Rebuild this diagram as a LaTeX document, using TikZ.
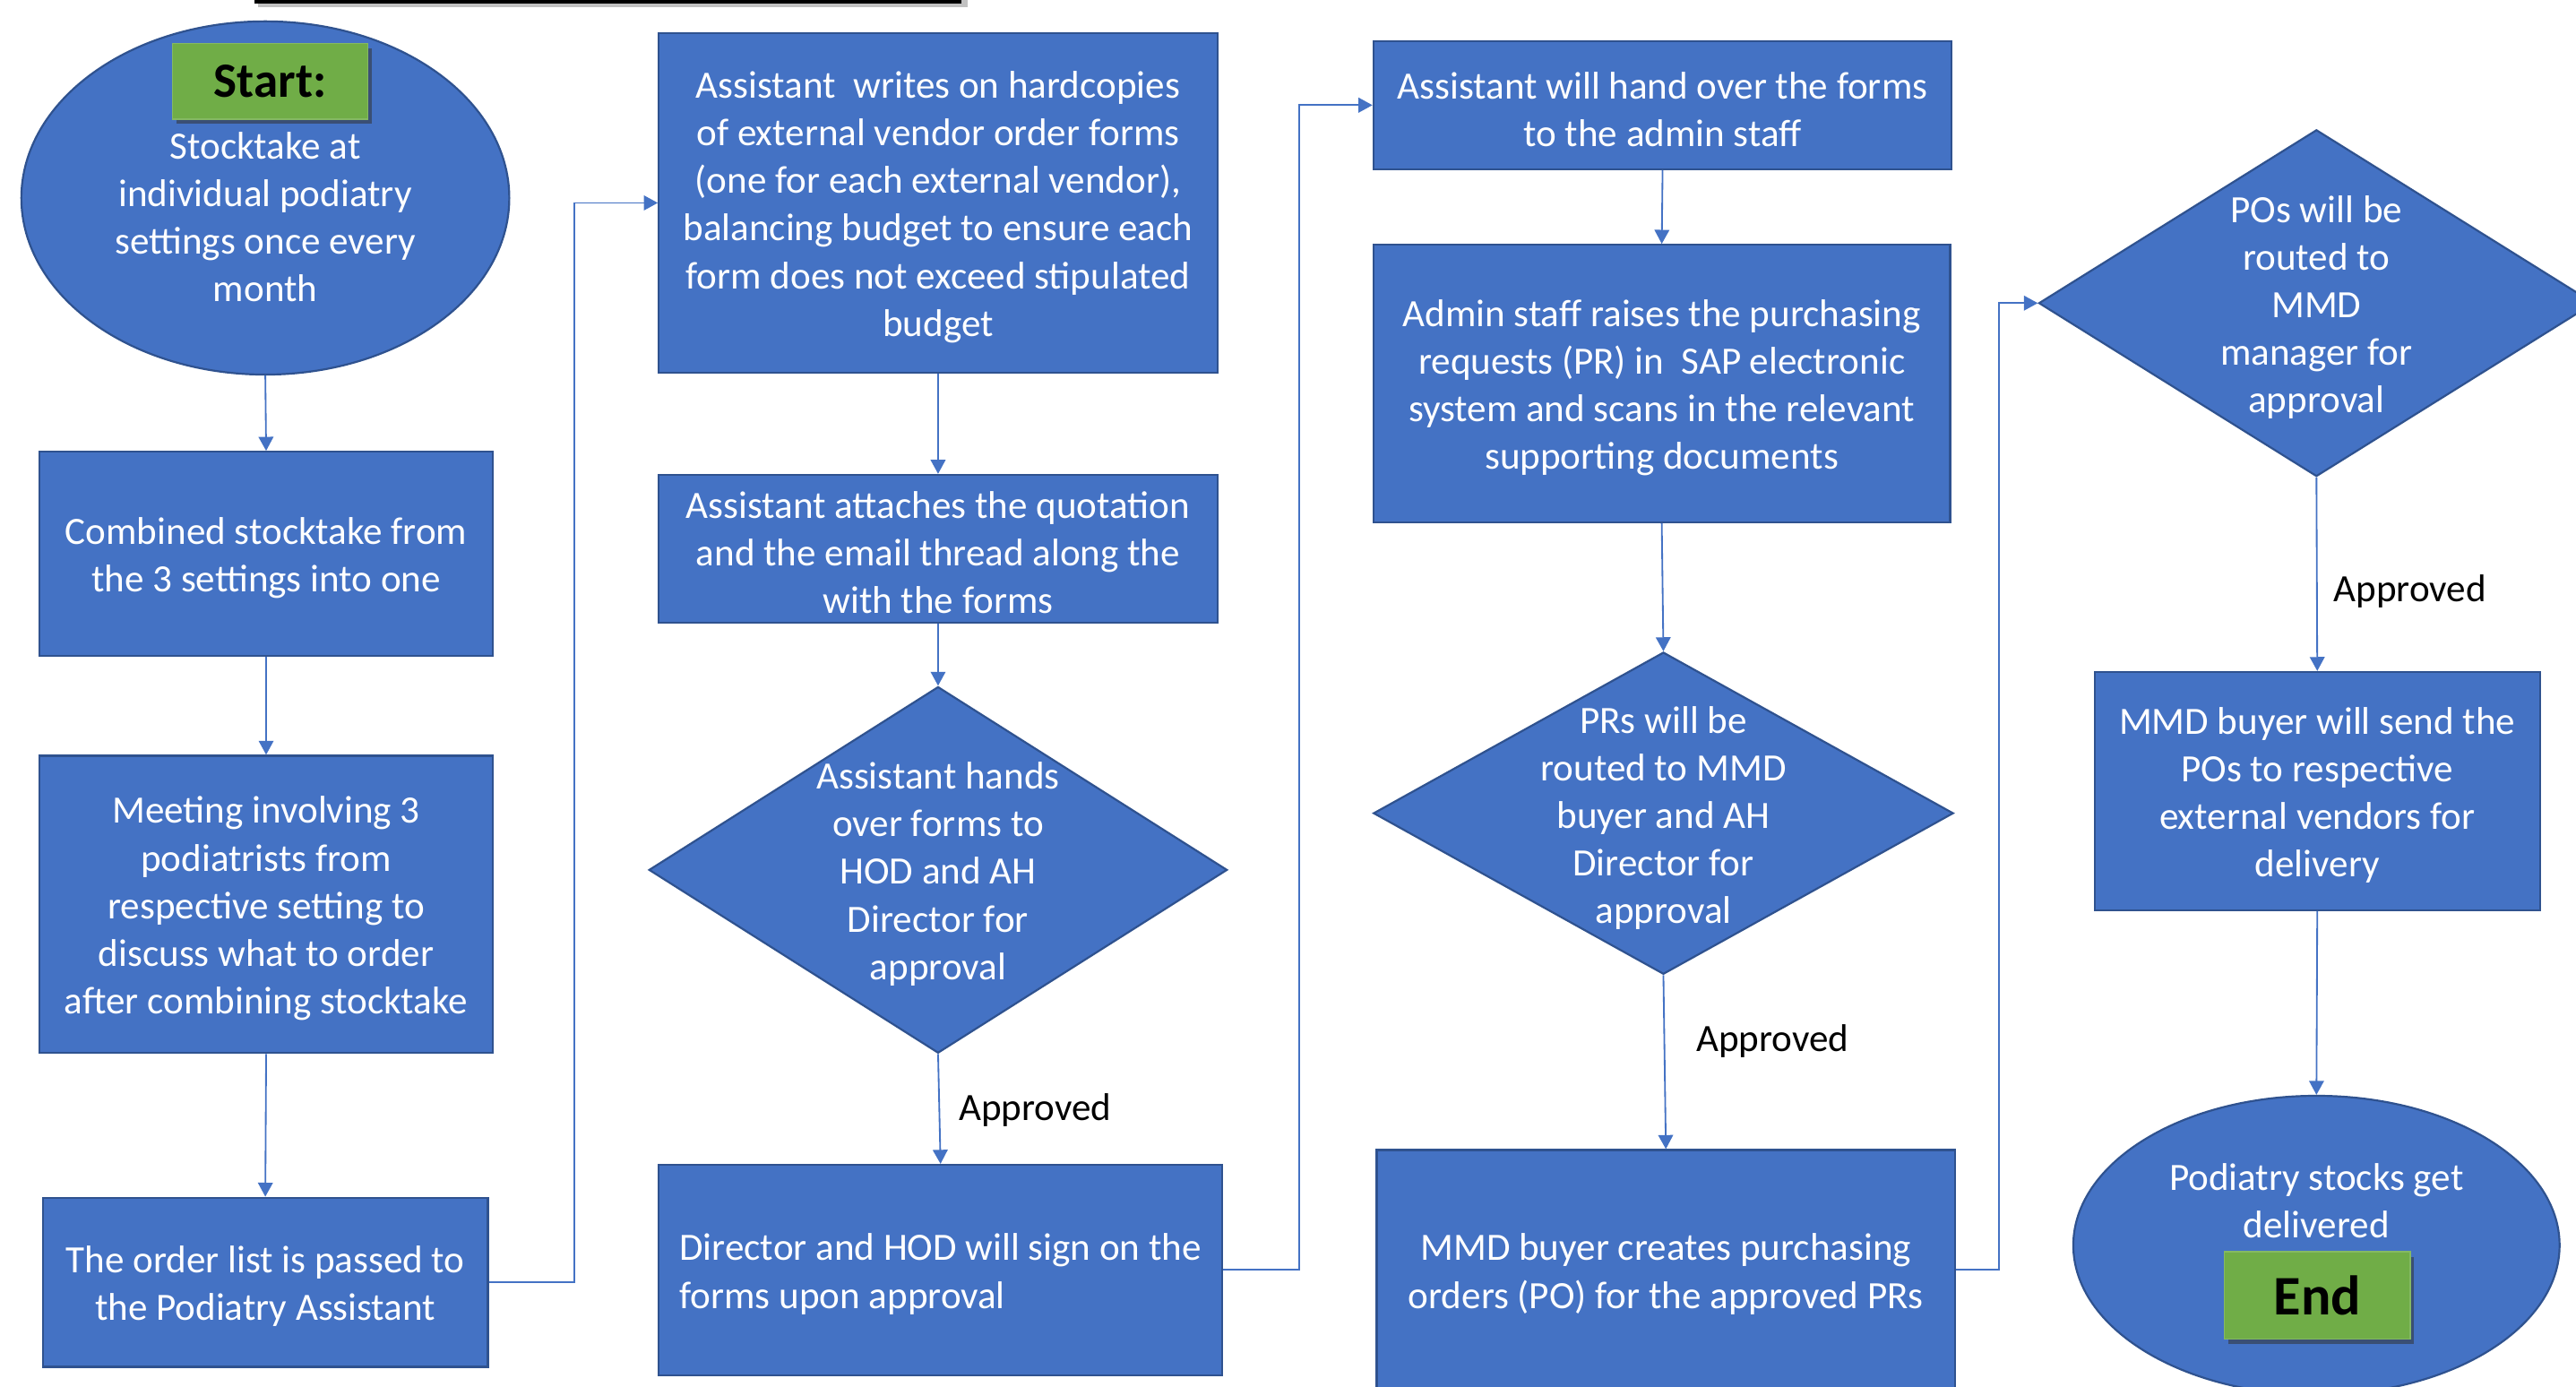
\documentclass[tikz,border=0pt]{standalone}
\usepackage{fontspec}
\setmainfont{Carlito}
\usetikzlibrary{shapes.geometric,arrows.meta,shadows}
\definecolor{fillblue}{HTML}{4472C4}
\definecolor{edgeblue}{HTML}{2F528F}
\definecolor{lineblue}{HTML}{4472C4}
\definecolor{startgreen}{HTML}{70AD47}
\begin{document}
\begin{tikzpicture}[x=1pt,y=-1pt,
  proc/.style={draw=edgeblue,fill=fillblue,line width=1.2pt,inner sep=0pt},
  decis/.style={diamond,draw=edgeblue,fill=fillblue,line width=1.2pt,inner sep=0pt},
  term/.style={ellipse,draw=edgeblue,fill=fillblue,line width=1.2pt,inner sep=0pt},
  wtext/.style={text=white,align=center,inner sep=0pt,font=\fontsize{23.5}{29}\selectfont},
  ptext/.style={wtext,yshift=-2.5pt},
  lbl/.style={text=black,inner sep=0pt,font=\fontsize{23.5}{29}\selectfont},
  gbox/.style={fill=startgreen,draw=startgreen!85!white,line width=0.8pt,inner sep=0pt,text=black,font=\bfseries,
    drop shadow={shadow xshift=2.5pt,shadow yshift=-3pt,opacity=0.55,fill=black!80}},
  conn/.style={draw=lineblue,line width=1pt,-{Triangle[length=8.5pt,width=9pt]}}
]
\useasboundingbox (0,0) rectangle (1568,844);
\clip (0,0) rectangle (1568,844);
\fill[white] (0,0) rectangle (1568,844);

% top bar
\fill[black!40,opacity=0.6] (157,0) rectangle (589,4.5);
\fill[black] (155,-1) rectangle (585,2.3);

% start
\node[term,minimum width=297pt,minimum height=215pt] (start) at (161.5,120.5) {};
\node[gbox,minimum width=119pt,minimum height=46pt,font=\fontsize{30}{32}\selectfont\bfseries] (startg) at (164.5,49.5) {Start:};
\node[wtext] (startt) at (161.5,132) {Stocktake at\\individual podiatry\\settings once every\\month};

\node[proc,minimum width=276pt,minimum height=124pt,label={[ptext]center:{Combined stocktake from\\the 3 settings into one}}] (box2) at (162,337) {};
\node[proc,minimum width=276pt,minimum height=181pt,label={[ptext]center:{Meeting involving 3\\podiatrists from\\respective setting to\\discuss what to order\\after combining stocktake}}] (box3) at (162,550.5) {};
\node[proc,minimum width=271pt,minimum height=103pt,label={[ptext]center:{The order list is passed to\\the Podiatry Assistant}}] (box4) at (161.5,780.5) {};

\node[proc,minimum width=340pt,minimum height=207pt,label={[ptext]center:{Assistant\ \ writes on hardcopies\\of external vendor order forms\\(one for each external vendor),\\balancing budget to ensure each\\form does not exceed stipulated\\budget}}] (box5) at (571,123.5) {};
\node[proc,minimum width=340pt,minimum height=90pt,label={[ptext]center:{Assistant attaches the quotation\\and the email thread along the\\with the forms}}] (box6) at (571,334) {};
\node[decis,minimum width=352pt,minimum height=223pt] (d1) at (571,529.5) {};
\node[wtext] (d1t) at (571,532) {Assistant hands\\over forms to\\HOD and AH\\Director for\\approval};
\node[proc,minimum width=343pt,minimum height=128pt,label={[ptext,align=left]center:{Director and HOD will sign on the\\forms upon approval}}] (box7) at (572.5,773) {};

\node[proc,minimum width=352pt,minimum height=78pt,label={[ptext]center:{Assistant will hand over the forms\\to the admin staff}}] (box8) at (1012,64) {};
\node[proc,minimum width=351pt,minimum height=169pt,label={[ptext]center:{Admin staff raises the purchasing\\requests (PR) in\ \ SAP electronic\\system and scans in the relevant\\supporting documents}}] (box9) at (1011.5,233.5) {};
\node[decis,minimum width=353pt,minimum height=196pt] (d2) at (1012.5,495) {};
\node[wtext] (d2t) at (1012.5,498) {PRs will be\\routed to MMD\\buyer and AH\\Director for\\approval};
\node[proc,minimum width=352pt,minimum height=146pt,label={[ptext]center:{MMD buyer creates purchasing\\orders (PO) for the approved PRs}}] (box10) at (1014,773) {};

\node[decis,minimum width=338pt,minimum height=211pt] (d3) at (1410,184.5) {};
\node[wtext] (d3t) at (1410,187) {POs will be\\routed to\\MMD\\manager for\\approval};
\node[proc,minimum width=271pt,minimum height=145pt,label={[ptext]center:{MMD buyer will send the\\POs to respective\\external vendors for\\delivery}}] (box11) at (1410.5,481.5) {};
\node[term,minimum width=296pt,minimum height=182pt] (endell) at (1410,758) {};
\node[wtext] (endt) at (1410,731) {Podiatry stocks get\\delivered};
\node[gbox,minimum width=113pt,minimum height=53pt,font=\fontsize{34}{36}\selectfont\bfseries] (endg) at (1410.5,788.5) {End};

% connectors
\draw[conn] (start.south) -- (box2.north);
\draw[conn] (box2.south) -- (box3.north);
\draw[conn] (box3.south) -- (box4.north);
\draw[conn] (box4.east) -- ++(52,0) |- (box5.west);
\draw[conn] (box5.south) -- (box6.north);
\draw[conn] (box6.south) -- (d1.north);
\draw[conn] (d1.south) -- (box7.north);
\draw[conn] (box7.east) -- ++(46,0) |- (box8.west);
\draw[conn] (box8.south) -- (box9.north);
\draw[conn] (box9.south) -- (d2.north);
\draw[conn] (d2.south) -- (box10.north);
\draw[conn] (box10.east) -- ++(26,0) |- (d3.west);
\draw[conn] (d3.south) -- (box11.north);
\draw[conn] (box11.south) -- (endell.north);

\node[lbl] (ap1) at (630,676) {Approved};
\node[lbl] (ap2) at (1079,634) {Approved};
\node[lbl] (ap3) at (1467,360) {Approved};
\end{tikzpicture}
\end{document}
